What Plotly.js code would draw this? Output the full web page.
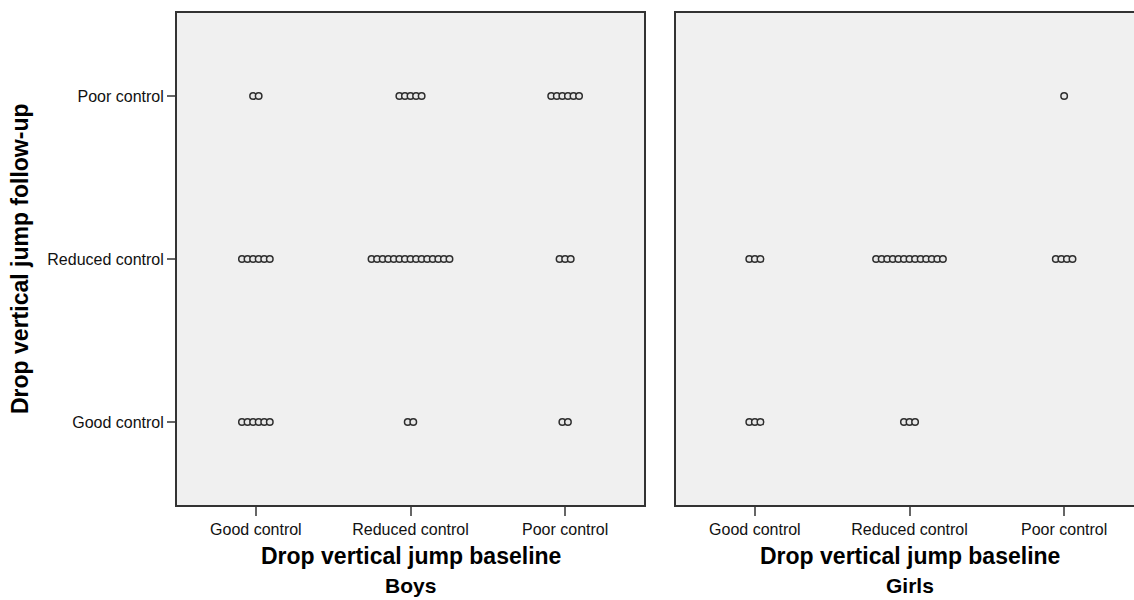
<!DOCTYPE html>
<html>
<head>
<meta charset="utf-8">
<script src="https://cdn.plot.ly/plotly-3.0.1.min.js"></script>
<style>
html,body{margin:0;padding:0;overflow:hidden;background:#fff;}
#chart{width:1150px;height:600px;}
</style>
</head>
<body>
<div id="chart"></div>
<script>
// Categories (both axes)
const baselineCategories = ['Good control', 'Reduced control', 'Poor control'];
const followupCategories = ['Good control', 'Reduced control', 'Poor control'];
const panels = ['Boys', 'Girls'];

// Number of children per cell: rows = follow-up (Good, Reduced, Poor), cols = baseline (Good, Reduced, Poor)
const boysCounts = [
  [6, 2, 2],
  [6, 15, 3],
  [2, 5, 6]
];
const girlsCounts = [
  [3, 3, 0],
  [3, 13, 4],
  [0, 0, 1]
];

const dotStep = 0.036; // horizontal stacking of coincident points (style)

function buildPoints(counts) {
  const xs = [], ys = [];
  counts.forEach((row, r) => {
    row.forEach((n, c) => {
      for (let k = 0; k < n; k++) {
        xs.push(c + (k - (n - 1) / 2) * dotStep);
        ys.push(r);
      }
    });
  });
  return {xs, ys};
}

const b = buildPoints(boysCounts);
const g = buildPoints(girlsCounts);

const markerStyle = {
  symbol: 'circle',
  size: 6.5,
  color: '#e8e8e8',
  line: {color: '#2e2e2e', width: 1.5}
};

const traces = [
  {type: 'scatter', mode: 'markers', x: b.xs, y: b.ys, xaxis: 'x', yaxis: 'y',
   marker: markerStyle, name: panels[0], hoverinfo: 'skip'},
  {type: 'scatter', mode: 'markers', x: g.xs, y: g.ys, xaxis: 'x2', yaxis: 'y2',
   marker: markerStyle, name: panels[1], hoverinfo: 'skip'}
];

const W = 1150;
const tickFont = {family: 'Liberation Sans, Arial, sans-serif', size: 16, color: '#111'};
const titleFont = {family: 'Liberation Sans, Arial, sans-serif', size: 23, color: '#000'};
const panelFont = {family: 'Liberation Sans, Arial, sans-serif', size: 21, color: '#000'};

const xCommon = {
  type: 'linear', range: [-0.51, 2.51], tickmode: 'array',
  tickvals: [0, 1, 2], ticktext: baselineCategories,
  ticks: 'outside', ticklen: 9, tickwidth: 2, tickcolor: '#666',
  showline: true, mirror: true, linecolor: '#333', linewidth: 2,
  showgrid: false, zeroline: false, automargin: false,
  tickfont: tickFont, fixedrange: true
};
const yCommon = {
  type: 'linear', range: [-0.51, 2.51], tickmode: 'array',
  tickvals: [0, 1, 2], ticktext: followupCategories,
  showline: true, mirror: true, linecolor: '#333', linewidth: 2,
  showgrid: false, zeroline: false, automargin: false,
  tickfont: tickFont, fixedrange: true
};

const layout = {
  width: W, height: 600,
  margin: {l: 0, r: 0, t: 13, b: 95},
  paper_bgcolor: '#ffffff',
  plot_bgcolor: '#f0f0f0',
  showlegend: false,
  xaxis: Object.assign({}, xCommon, {domain: [177 / W, 644 / W], anchor: 'y'}),
  xaxis2: Object.assign({}, xCommon, {domain: [676 / W, 1143 / W], anchor: 'y2'}),
  yaxis: Object.assign({}, yCommon, {domain: [0, 1], anchor: 'x',
    ticks: 'outside', ticklen: 8, tickwidth: 2, tickcolor: '#666'}),
  yaxis2: Object.assign({}, yCommon, {domain: [0, 1], anchor: 'x2',
    ticks: '', showticklabels: false}),
  annotations: [
    {text: '<b>Drop vertical jump baseline</b>', xref: 'x domain', yref: 'paper',
     x: 0.5, y: -0.104, xanchor: 'center', yanchor: 'middle', showarrow: false, font: titleFont},
    {text: '<b>Drop vertical jump baseline</b>', xref: 'x2 domain', yref: 'paper',
     x: 0.5, y: -0.104, xanchor: 'center', yanchor: 'middle', showarrow: false, font: titleFont},
    {text: '<b>' + panels[0] + '</b>', xref: 'x domain', yref: 'paper',
     x: 0.5, y: -0.164, xanchor: 'center', yanchor: 'middle', showarrow: false, font: panelFont},
    {text: '<b>' + panels[1] + '</b>', xref: 'x2 domain', yref: 'paper',
     x: 0.5, y: -0.164, xanchor: 'center', yanchor: 'middle', showarrow: false, font: panelFont},
    {text: '<b>Drop vertical jump follow-up</b>', xref: 'paper', yref: 'paper',
     x: 20 / W, y: 0.5, xanchor: 'center', yanchor: 'middle', textangle: -90,
     showarrow: false, font: titleFont}
  ]
};

Plotly.newPlot('chart', traces, layout, {displayModeBar: false, staticPlot: true});
</script>
</body>
</html>
